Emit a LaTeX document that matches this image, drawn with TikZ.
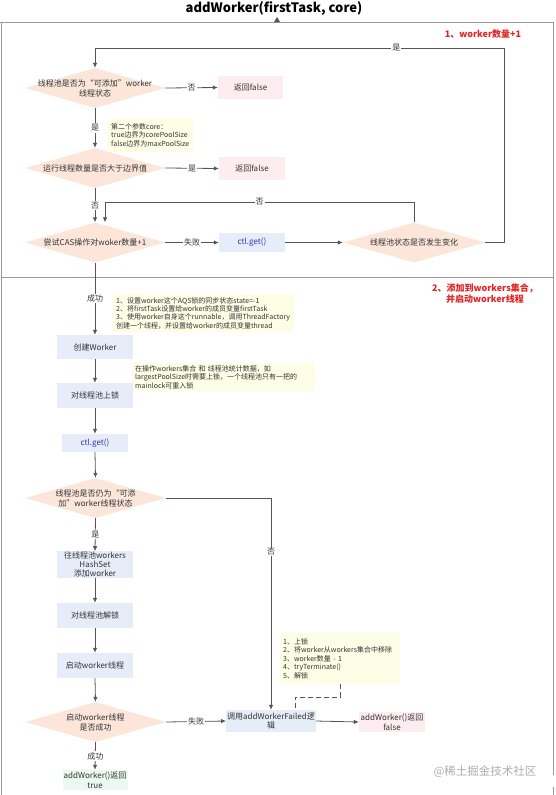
\documentclass[tikz,border=0pt]{standalone}
\usepackage{fontspec}
\setmainfont{Noto Sans CJK SC}
\usetikzlibrary{shapes.geometric,arrows.meta}
\definecolor{diafill}{HTML}{FCE6DA}
\definecolor{bluefill}{HTML}{E6ECF8}
\definecolor{pinkfill}{HTML}{FDEDF1}
\definecolor{notefill}{HTML}{FEFDE6}
\definecolor{greenfill}{HTML}{ECF9F0}
\definecolor{linec}{HTML}{555555}
\definecolor{framec}{HTML}{999999}
\definecolor{textc}{HTML}{333333}
\definecolor{bluetext}{HTML}{3535B5}
\definecolor{redtext}{HTML}{E02424}
\begin{document}
\begin{tikzpicture}[x=1pt,y=-1pt,
  every node/.style={text=textc},
  dia/.style={diamond, fill=diafill, draw=none, minimum width=140pt, minimum height=40pt, inner sep=0pt},
  dtxt/.style={font=\fontsize{8}{10}\selectfont, align=center, inner sep=0pt},
  bx/.style={minimum width=76pt, minimum height=24pt, inner sep=0pt, font=\fontsize{8}{9.5}\selectfont, align=center},
  bluebox/.style={bx, fill=bluefill},
  pinkbox/.style={bx, fill=pinkfill},
  notebox/.style={fill=notefill, align=left, font=\fontsize{7}{8.4}\selectfont, inner sep=0pt, inner xsep=3pt, anchor=north west},
  conn/.style={draw=linec, line width=0.8pt},
  arr/.style={conn, -{Latex[length=5pt,width=4.5pt]}},
  dashconn/.style={draw=linec, line width=0.8pt, dash pattern=on 5pt off 3pt},
  lab/.style={fill=white, inner sep=1pt, font=\fontsize{8}{9}\selectfont},
  redlab/.style={font=\bfseries\fontsize{9}{11}\selectfont, text=redtext, align=center},
  frame/.style={draw=framec, line width=0.8pt}
]
\useasboundingbox (0,0) rectangle (555,795);

% frame
\draw[frame] (0,22) -- (553,22);
\draw[frame] (1,22) -- (1,795);
\draw[frame] (553,22) -- (553,775);
\draw[frame] (553,787) -- (553,795);
\draw[frame] (1,277) -- (553,277);
\fill[linec] (274,22) -- (280,22) -- (277,17) -- cycle;

\node[font=\bfseries\fontsize{13}{15}\selectfont, text=black] (title) at (274,9) {addWorker(firstTask, core)};
\node[redlab] (sec1) at (483,34) {1、worker数量+1};
\node[redlab] (sec2) at (485,294) {2、添加到workers集合，\\并启动worker线程};

% section 1
\node[dia] (d1) at (95,88) {};
\node[dtxt] (d1t) at (d1) {线程池是否为“可添加”worker\\线程状态};
\node[pinkbox, minimum width=65pt, minimum height=23pt] (rf1) at (250.5,87.5) {返回false};

\node[notebox, minimum width=85pt, minimum height=34pt, text width=79pt] (n0) at (108,118) {第二个参数core：\\true边界为corePoolSize\\false边界为maxPoolSize};

\node[dia] (d2) at (95,168) {};
\node[dtxt] (d2t) at (d2) {运行线程数量是否大于边界值};
\node[pinkbox, minimum width=66pt, minimum height=23pt] (rf2) at (252,168.5) {返回false};

\node[dia] (d3) at (95,242.5) {};
\node[dtxt] (d3t) at (d3) {尝试CAS操作对woker数量+1};
\node[bluebox, minimum width=66pt, minimum height=19pt, text=bluetext] (c1) at (252,242.5) {ctl.get()};

\node[dia, minimum width=142pt] (d4) at (414,242.5) {};
\node[dtxt] (d4t) at (d4) {线程池状态是否发生变化};

\draw[arr] (d1.east) -- node[lab]{否} (rf1.west);
\draw[arr] (d1.south) -- node[lab]{是} (d2.north);
\draw[arr] (d2.east) -- node[lab]{是} (rf2.west);
\draw[arr] (d2.south) -- node[lab]{否} (d3.north);
\draw[arr] (d3.east) -- node[lab]{失败} (c1.west);
\draw[arr] (c1.east) -- (d4.west);
\draw[arr] (d4.north) -- (414,202) -- node[lab]{否} (105,202) -- (105,0 |- d3.north);
\draw[arr] (d4.east) -- (504,242.5) -- (504,48) -- node[lab, pos=0.263]{是} (95,48) -- (d1.north);

% section 2
\node[notebox, minimum width=181pt, minimum height=38pt, text width=175pt] (n1) at (113,294) {1、设置worker这个AQS锁的同步状态state=-1\\2、将firstTask设置给worker的成员变量firstTask\\3、使用worker自身这个runnable，调用ThreadFactory\\创建一个线程，并设置给worker的成员变量thread};
\node[bluebox] (cw) at (95,347) {创建Worker};
\node[notebox, minimum width=183pt, minimum height=28pt, text width=177pt] (n2) at (132,363) {在操作workers集合 和 线程池统计数据，如\\largestPoolSize时需要上锁，一个线程池只有一把的\\mainlock可重入锁};
\node[bluebox, minimum height=25pt] (lock) at (95,395.5) {对线程池上锁};
\node[bluebox, minimum width=66pt, minimum height=18pt, text=bluetext] (c2) at (95,443) {ctl.get()};
\node[dia, minimum width=141pt] (d5) at (95.5,498) {};
\node[dtxt] (d5t) at (d5) {线程池是否仍为“可添\\加”worker线程状态};
\node[bluebox, minimum height=25pt, font=\fontsize{8}{9.4}\selectfont] (add) at (95,564.5) {往线程池workers\\HashSet\\添加worker};
\node[bluebox, minimum height=25pt] (unlock) at (95,615.5) {对线程池解锁};
\node[bluebox, minimum height=25pt] (start) at (95,665.5) {启动worker线程};
\node[dia, minimum width=141pt] (d6) at (95.5,722) {};
\node[dtxt] (d6t) at (d6) {启动worker线程\\是否成功};
\node[bluebox, minimum width=89.5pt, minimum height=22pt] (fail) at (271,721) {调用addWorkerFailed逻\\辑};
\node[pinkbox, minimum width=66pt, minimum height=20pt] (rf3) at (392,722) {addWorker()返回\\false};
\node[bx, fill=greenfill, minimum width=65pt, minimum height=20pt] (rt) at (95,780) {addWorker()返回\\true};
\node[notebox, minimum width=120pt, minimum height=51pt, text width=114pt] (n3) at (280,633) {1、上锁\\2、将worker从workers集合中移除\\3、worker数量 - 1\\4、tryTerminate()\\5、解锁};

\draw[arr] (d3.south) -- node[lab]{成功} (cw.north);
\draw[arr] (cw.south) -- (lock.north);
\draw[arr] (lock.south) -- (c2.north);
\draw[arr] (c2.south) -- (d5.north);
\draw[arr] (d5.south) -- node[lab]{是} (add.north);
\draw[arr] (add.south) -- (unlock.north);
\draw[arr] (unlock.south) -- (start.north);
\draw[arr] (start.south) -- (d6.north);
\draw[arr] (d5.east) -- (fail.north |- d5.east) -- node[lab, pos=0.255]{否} (fail.north);
\draw[arr] (d6.east) -- node[lab]{失败} (fail.west);
\draw[arr] (fail.east) -- (rf3.west);
\draw[arr] (d6.south) -- node[lab]{成功} (rt.north);
\draw[dashconn] (n3.south) -- (n3.south |- 0,697) -- (295,697) -- (295,0 |- fail.north);

\node[font=\fontsize{11.5}{13}\selectfont, text=black!32] (wm) at (485,772) {@稀土掘金技术社区};
\end{tikzpicture}
\end{document}
